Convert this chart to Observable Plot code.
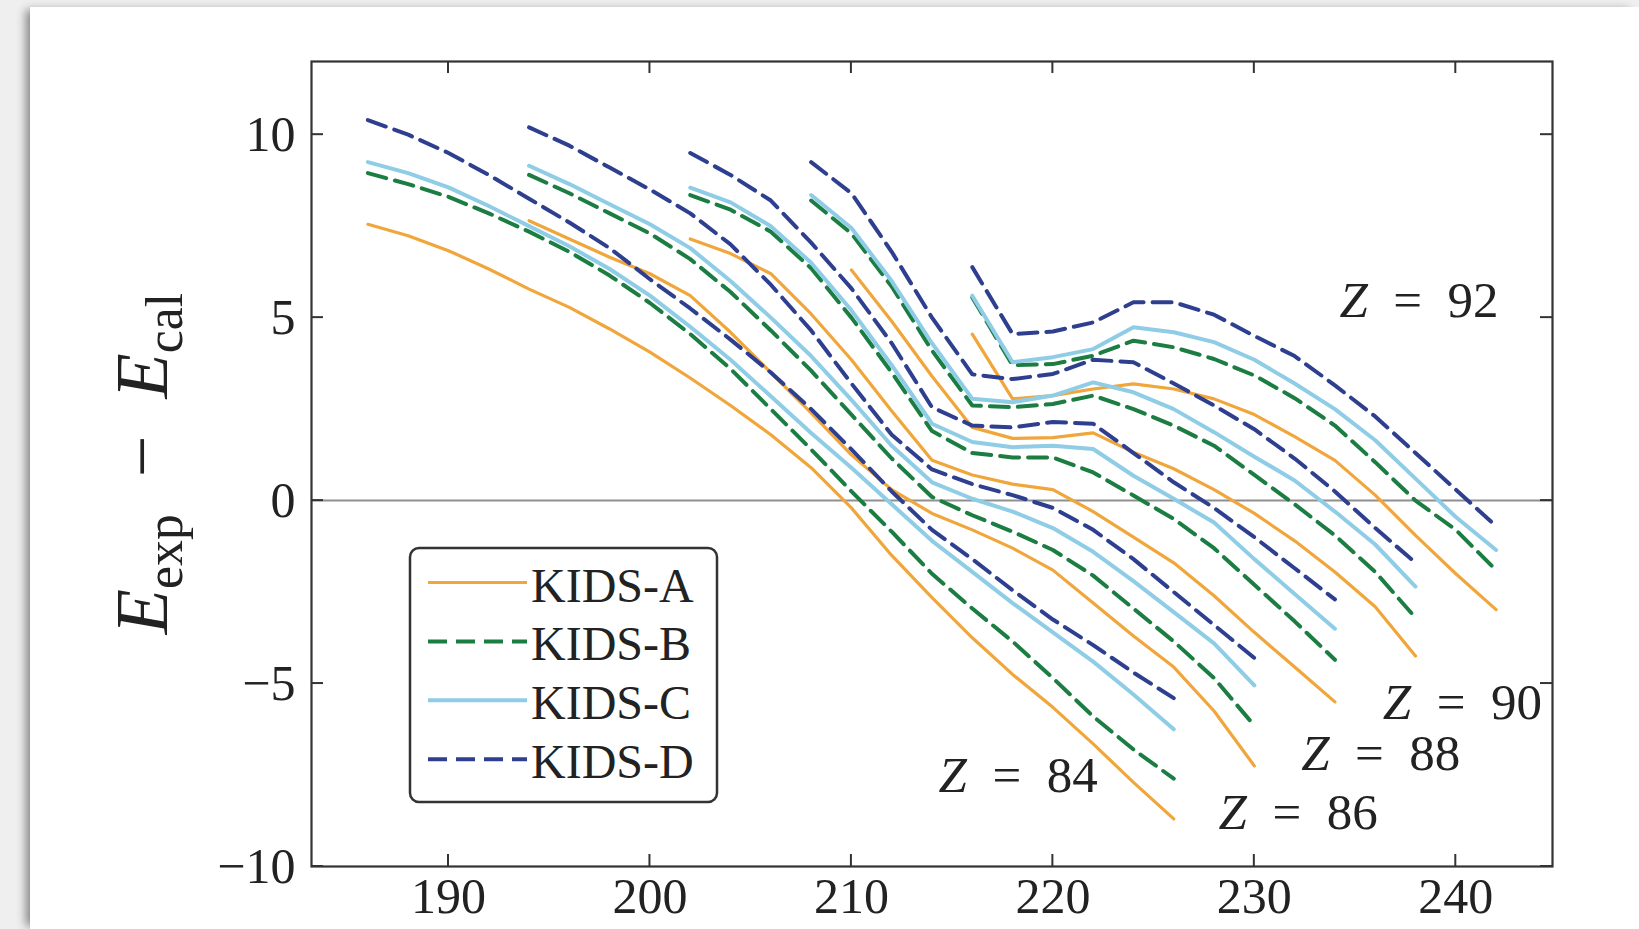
<!DOCTYPE html>
<html>
<head>
<meta charset="utf-8">
<script src="https://cdn.jsdelivr.net/npm/d3@7"></script>
<script src="https://cdn.jsdelivr.net/npm/@observablehq/plot@0.6"></script>
<style>
  html, body { margin: 0; padding: 0; width: 1639px; height: 929px; overflow: hidden; background: #efefef; }
  #card { position: absolute; left: 30px; top: 7px; width: 1609px; height: 922px; background: #fff;
          box-shadow: -7px 0 9px -3px rgba(0,0,0,0.45); }
</style>
</head>
<body>
<div id="card"></div>
<script>
// Mass numbers A for each isotope chain
const massZ84 = [186,188,190,192,194,196,198,200,202,204,206,208,210,212,214,216,218,220,222,224,226];
const massZ86 = [194,196,198,200,202,204,206,208,210,212,214,216,218,220,222,224,226,228,230];
const massZ88 = [202,204,206,208,210,212,214,216,218,220,222,224,226,228,230,232,234];
const massZ90 = [208,210,212,214,216,218,220,222,224,226,228,230,232,234,236,238];
const massZ92 = [216,218,220,222,224,226,228,230,232,234,236,238,240,242];

// E_exp - E_cal (MeV) for each functional, one array per chain
const kidsA_Z84 = [7.55,7.24,6.83,6.33,5.78,5.28,4.69,4.06,3.35,2.6,1.8,0.9,-0.2,-1.5,-2.65,-3.75,-4.75,-5.65,-6.65,-7.7,-8.7];
const kidsB_Z84 = [8.95,8.65,8.3,7.85,7.35,6.8,6.15,5.4,4.55,3.6,2.5,1.4,0.25,-0.85,-2.0,-2.95,-3.85,-4.85,-5.9,-6.8,-7.6];
const kidsC_Z84 = [9.25,8.95,8.56,8.05,7.5,6.95,6.33,5.6,4.75,3.85,2.85,1.85,0.9,-0.1,-1.1,-1.95,-2.8,-3.6,-4.4,-5.3,-6.25];
const kidsD_Z84 = [10.4,10.0,9.5,8.9,8.25,7.6,6.9,6.05,5.25,4.4,3.5,2.5,1.4,0.25,-0.8,-1.6,-2.45,-3.25,-3.95,-4.7,-5.4];

const kidsA_Z86 = [7.65,7.15,6.65,6.2,5.6,4.6,3.5,2.4,1.25,0.3,-0.35,-0.8,-1.3,-1.9,-2.8,-3.7,-4.55,-5.75,-7.25];
const kidsB_Z86 = [8.9,8.4,7.85,7.3,6.6,5.7,4.65,3.55,2.35,1.15,0.1,-0.4,-0.85,-1.35,-2.05,-2.95,-3.85,-4.85,-6.15];
const kidsC_Z86 = [9.15,8.65,8.1,7.55,6.9,6.0,5.0,3.95,2.75,1.5,0.5,0.05,-0.3,-0.75,-1.4,-2.2,-3.05,-3.9,-5.05];
const kidsD_Z86 = [10.2,9.7,9.1,8.5,7.85,7.0,5.9,4.65,3.2,1.8,0.85,0.45,0.15,-0.2,-0.8,-1.6,-2.5,-3.4,-4.3];

const kidsA_Z88 = [7.15,6.75,6.2,5.1,3.85,2.45,1.1,0.7,0.45,0.3,-0.3,-1.0,-1.7,-2.6,-3.6,-4.55,-5.5];
const kidsB_Z88 = [8.35,7.95,7.35,6.35,5.0,3.5,1.9,1.3,1.18,1.18,0.77,0.14,-0.5,-1.3,-2.3,-3.3,-4.35];
const kidsC_Z88 = [8.55,8.15,7.5,6.5,5.2,3.7,2.1,1.6,1.46,1.5,1.41,0.68,0.05,-0.6,-1.6,-2.55,-3.5];
const kidsD_Z88 = [9.5,8.9,8.2,7.05,5.8,4.3,2.55,2.05,2.0,2.15,2.1,1.3,0.5,-0.2,-1.0,-1.85,-2.7];

const kidsA_Z90 = [null,6.3,4.9,3.4,2.0,1.7,1.72,1.85,1.32,0.87,0.3,-0.35,-1.1,-1.95,-2.9,-4.25];
const kidsB_Z90 = [8.2,7.3,5.85,4.1,2.6,2.55,2.64,2.87,2.5,2.05,1.5,0.7,-0.1,-0.95,-1.95,-3.2];
const kidsC_Z90 = [8.35,7.45,6.0,4.3,2.78,2.69,2.87,3.23,2.96,2.5,1.87,1.2,0.55,-0.3,-1.2,-2.35];
const kidsD_Z90 = [9.25,8.4,6.8,5.0,3.45,3.32,3.46,3.85,3.78,3.2,2.6,1.95,1.15,0.25,-0.75,-1.7];

const kidsA_Z92 = [4.55,2.78,2.87,3.05,3.19,3.05,2.78,2.35,1.75,1.1,0.15,-0.95,-2.0,-2.98];
const kidsB_Z92 = [5.55,3.7,3.73,3.96,4.37,4.19,3.87,3.42,2.8,2.05,1.05,0.0,-0.8,-1.9];
const kidsC_Z92 = [5.6,3.78,3.92,4.14,4.74,4.6,4.33,3.85,3.2,2.5,1.65,0.6,-0.45,-1.35];
const kidsD_Z92 = [6.38,4.55,4.62,4.87,5.42,5.42,5.08,4.5,3.95,3.15,2.3,1.3,0.3,-0.7];

// Functional names and axis ticks
const modelNames = ["KIDS-A", "KIDS-B", "KIDS-C", "KIDS-D"];
const xTicks = [190, 200, 210, 220, 230, 240];
const yTicks = [-10, -5, 0, 5, 10];

// Chain labels: proton number and where each label sits (A, E)
const labelZ = [92, 90, 88, 86, 84];
const labelA = [238.2, 240.35, 236.3, 232.2, 218.3];
const labelE = [5.48, -5.5, -6.9, -8.5, -7.5];

// Line styles per functional
const modelColors = ["#f0a63a", "#1c7d43", "#8fcde6", "#2e3f8f"];
const modelDash = [null, "19,9", null, "19,9"];
const modelWidth = [3.2, 4, 4, 4];

const chains = [
  {Z: 84, mass: massZ84, series: [kidsA_Z84, kidsB_Z84, kidsC_Z84, kidsD_Z84]},
  {Z: 86, mass: massZ86, series: [kidsA_Z86, kidsB_Z86, kidsC_Z86, kidsD_Z86]},
  {Z: 88, mass: massZ88, series: [kidsA_Z88, kidsB_Z88, kidsC_Z88, kidsD_Z88]},
  {Z: 90, mass: massZ90, series: [kidsA_Z90, kidsB_Z90, kidsC_Z90, kidsD_Z90]},
  {Z: 92, mass: massZ92, series: [kidsA_Z92, kidsB_Z92, kidsC_Z92, kidsD_Z92]}
];

const rows = [];
for (const c of chains) {
  c.series.forEach((vals, k) => vals.forEach((v, i) => {
    if (v != null) rows.push({model: modelNames[k], Z: c.Z, A: c.mass[i], dE: v});
  }));
}

const FONT = "'Liberation Serif', 'DejaVu Serif', serif";
const INK = "#222";
const FRAME = "#333";
const TICK = 12;

// Inward ticks on all four sides of the frame
function frameTicks(index, {x, y}, values, dims) {
  const g = d3.create("svg:g").attr("stroke", FRAME).attr("stroke-width", 2);
  const L = dims.marginLeft, T = dims.marginTop;
  const R = dims.width - dims.marginRight, B = dims.height - dims.marginBottom;
  for (const v of xTicks) {
    const px = x(v);
    g.append("line").attr("x1", px).attr("x2", px).attr("y1", B).attr("y2", B - TICK);
    g.append("line").attr("x1", px).attr("x2", px).attr("y1", T).attr("y2", T + TICK);
  }
  for (const v of yTicks) {
    const py = y(v);
    g.append("line").attr("y1", py).attr("y2", py).attr("x1", L).attr("x2", L + TICK);
    g.append("line").attr("y1", py).attr("y2", py).attr("x1", R).attr("x2", R - TICK);
  }
  return g.node();
}

// "Z = n" annotations next to each chain
function chainLabels(index, {x, y}) {
  const g = d3.create("svg:g").attr("font-size", 51).attr("fill", INK).attr("font-family", FONT);
  labelZ.forEach((z, i) => {
    const t = g.append("text")
      .attr("x", x(labelA[i])).attr("y", y(labelE[i]))
      .attr("text-anchor", "middle").attr("dy", "0.35em");
    t.append("tspan").attr("font-style", "italic").text("Z");
    t.append("tspan").text("\u2002=\u2002" + z);
  });
  return g.node();
}

// Rotated y-axis title with subscripts
function yTitle(index, scales, values, dims) {
  const F = 74;
  const cx = dims.marginLeft - 144;
  const cy = (dims.marginTop + dims.height - dims.marginBottom) / 2;
  const g = d3.create("svg:g").attr("fill", INK).attr("font-family", FONT);
  const t = g.append("text").attr("transform", `translate(${cx},${cy}) rotate(-90)`)
    .attr("text-anchor", "middle").attr("font-size", F);
  t.append("tspan").attr("font-style", "italic").text("E");
  t.append("tspan").attr("font-size", F * 0.7).attr("dy", F * 0.2).text("exp");
  t.append("tspan").attr("dy", -F * 0.2).text("\u2002\u2212\u2002");
  t.append("tspan").attr("font-style", "italic").text("E");
  t.append("tspan").attr("font-size", F * 0.7).attr("dy", F * 0.2).text("cal");
  return g.node();
}

// Legend box inside the frame
function legendBox(index, scales, values, dims) {
  const x0 = dims.marginLeft + 99, y0 = dims.marginTop + 487;
  const g = d3.create("svg:g").attr("font-family", FONT);
  g.append("rect").attr("x", x0).attr("y", y0).attr("width", 307).attr("height", 254)
    .attr("rx", 9).attr("fill", "#fff").attr("stroke", FRAME).attr("stroke-width", 2.5);
  modelNames.forEach((m, k) => {
    const ly = y0 + 34.5 + k * 58.9;
    g.append("line").attr("x1", x0 + 18).attr("x2", x0 + 117).attr("y1", ly).attr("y2", ly)
      .attr("stroke", modelColors[k]).attr("stroke-width", modelWidth[k])
      .attr("stroke-dasharray", modelDash[k]);
    g.append("text").attr("x", x0 + 121).attr("y", ly + 19).attr("font-size", 48)
      .attr("text-anchor", "start").attr("fill", INK).text(m);
  });
  return g.node();
}

const fmt = d => d < 0 ? "\u2212" + (-d) : String(d);

const chart = Plot.plot({
  width: 1609,
  height: 922,
  marginLeft: 281,
  marginRight: 87,
  marginTop: 54,
  marginBottom: 63,
  style: {fontFamily: FONT, fontSize: "50px", color: INK, background: "transparent", overflow: "visible"},
  x: {domain: [183.2, 244.8], label: null},
  y: {domain: [-10, 12], label: null},
  marks: [
    Plot.ruleY([0], {stroke: "#8f8f8f", strokeWidth: 2}),
    ...modelNames.map((m, k) => Plot.line(rows.filter(r => r.model === m), {
      x: "A", y: "dE", z: "Z",
      stroke: modelColors[k], strokeWidth: modelWidth[k],
      ...(modelDash[k] ? {strokeDasharray: modelDash[k]} : {}),
      strokeLinejoin: "round"
    })),
    Plot.frame({stroke: FRAME, strokeWidth: 2.2}),
    frameTicks,
    Plot.axisX({ticks: xTicks, tickSize: 0, tickPadding: 11, tickFormat: d => String(d), label: null}),
    Plot.axisY({ticks: yTicks, tickSize: 0, tickPadding: 16, tickFormat: fmt, label: null}),
    chainLabels,
    yTitle,
    legendBox
  ]
});

document.getElementById("card").appendChild(chart);
</script>
</body>
</html>
